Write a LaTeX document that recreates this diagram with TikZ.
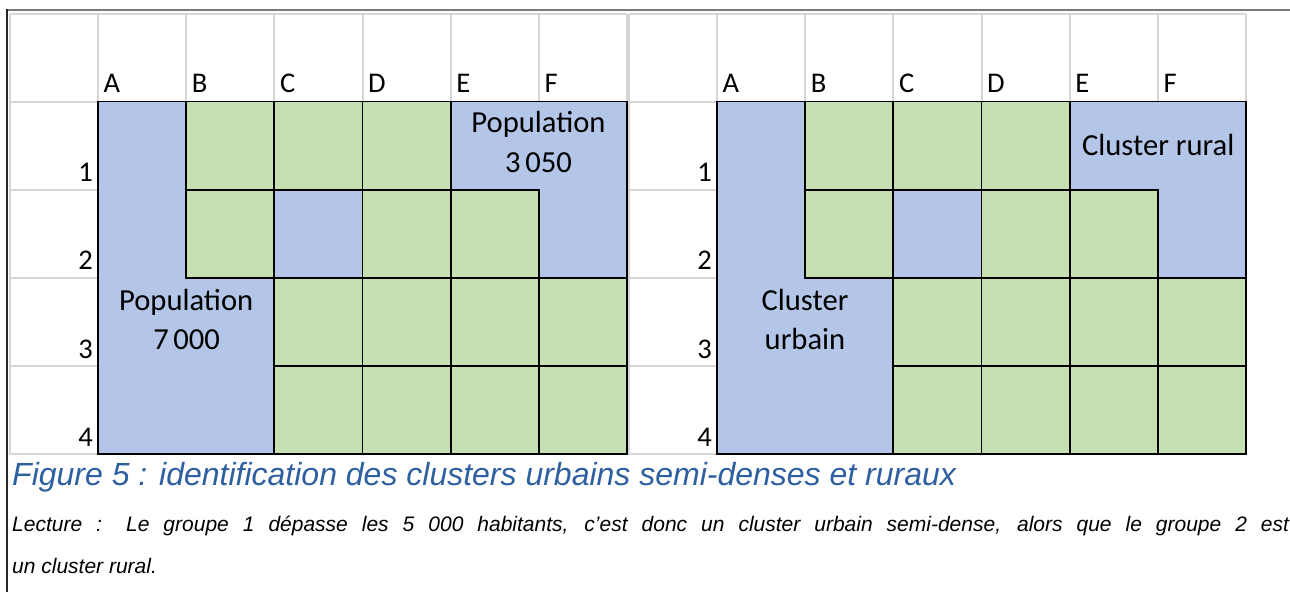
\documentclass[tikz,border=0pt]{standalone}
\usepackage{fontspec}
\setmainfont{Liberation Sans}
\newfontfamily\calib{Carlito}
\definecolor{cellblue}{HTML}{B4C6E7}
\definecolor{cellgreen}{HTML}{C6E0B4}
\definecolor{gridgrey}{HTML}{D6D6D6}
\definecolor{capblue}{RGB}{46,95,160}
\definecolor{framegrey}{HTML}{7A7A7A}

\newcommand\cw{88.17}
\newcommand\rh{88.1}

% one spreadsheet: #1 = x of column A, #2 = name prefix
\newcommand\drawsheet[2]{%
  \begin{scope}[shift={(#1,101.5)}]
    % light grey spreadsheet grid (headers)
    \draw[gridline] (-\cw,-87.5) -- (6*\cw,-87.5);
    \draw[gridline] (-\cw,0) -- (6*\cw,0);
    \foreach \rr in {1,...,4} {\draw[gridline] (-\cw,\rr*\rh) -- (0,\rr*\rh);}
    \draw[gridline] (-\cw,-87.5) -- (-\cw,4*\rh+1);
    \foreach \cc in {0,...,6} {\draw[gridline] (\cc*\cw,-87.5) -- (\cc*\cw,0);}
    % cells
    \fill[cellblue] (0,0) rectangle (6*\cw,4*\rh);
    \foreach \cc/\rr in {1/0,2/0,3/0,1/1,3/1,4/1,2/2,3/2,4/2,5/2,2/3,3/3,4/3,5/3}
      {\draw[greencell] (\cc*\cw,\rr*\rh) rectangle ({(\cc+1)*\cw},{(\rr+1)*\rh});}
    \draw[cellline] (0,0) rectangle (6*\cw,4*\rh);
    % column and row headers
    \foreach \cc/\ll in {0/A,1/B,2/C,3/D,4/E,5/F}
      {\node[collabel] (#2col\ll) at (\cc*\cw+5.5,-8.8) {\ll};}
    \foreach \rr in {1,...,4}
      {\node[rowlabel] (#2row\rr) at (-5,\rr*\rh-7.8) {\rr};}
  \end{scope}}

\begin{document}
\begin{tikzpicture}[x=1pt,y=-1pt,
  gridline/.style={draw=gridgrey,line width=2pt},
  cellline/.style={draw=black,line width=1.8pt},
  greencell/.style={fill=cellgreen,draw=black,line width=1.8pt},
  collabel/.style={anchor=base west,inner sep=0pt,font=\calib\fontsize{28.5}{30}\selectfont},
  rowlabel/.style={anchor=base east,inner sep=0pt,font=\calib\fontsize{28.5}{30}\selectfont},
  celltext/.style={anchor=base,inner sep=0pt,font=\calib\fontsize{30.6}{36}\selectfont},
  captiontext/.style={anchor=base west,inner sep=0pt,text=capblue,font=\fontsize{32}{38}\selectfont\itshape},
  readtext/.style={anchor=base west,inner sep=0pt,font=\fontsize{21}{25}\selectfont\itshape},
]
\useasboundingbox[fill=white] (0,0) rectangle (1290,592);

% frame
\draw[line width=2pt,framegrey] (6,10) -- (1290,10);
\draw[line width=1.5pt,black!85] (7,9) -- (7,592);

\drawsheet{98}{L}
\drawsheet{717}{R}

% texts of the left sheet
\node[celltext] (popR1) at (538.5,132.7) {Population};
\node[celltext] (popR2) at (538.5,172.7) {3\kern4.5pt050};
\node[celltext] (popL1) at (186.2,310) {Population};
\node[celltext] (popL2) at (186.7,349.5) {7\kern4.5pt000};

% texts of the right sheet
\node[celltext] (rural) at (1158.2,155) {Cluster rural};
\node[celltext] (urb1) at (805,310) {Cluster};
\node[celltext] (urb2) at (805,349.5) {urbain};

% caption and reading note
\node[captiontext] (caption) at (12,485) {Figure 5 : identification des clusters urbains semi-denses et ruraux};
\node[readtext] (read1) at (12,531) {\makebox[1277pt][s]{Lecture : Le groupe 1 dépasse les 5 000 habitants, c’est donc un cluster urbain semi-dense, alors que le groupe 2 est}};
\node[readtext] (read2) at (12,573) {un cluster rural.};
\end{tikzpicture}
\end{document}
